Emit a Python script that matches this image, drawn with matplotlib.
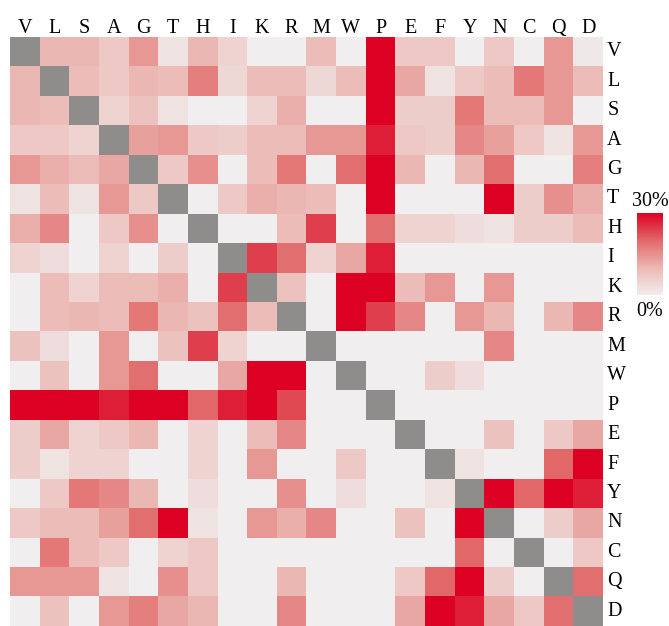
import matplotlib

matplotlib.use("Agg")

import matplotlib.pyplot as plt
import numpy as np
from matplotlib.colors import LinearSegmentedColormap


# residue order, shared by columns (top) and rows (right)
residues = [
    "V", "L", "S", "A", "G", "T", "H", "I", "K", "R",
    "M", "W", "P", "E", "F", "Y", "N", "C", "Q", "D",
]

# percent values, one list per row, diagonal = None
row_V = [None, 10, 10, 7, 14, 2, 10, 5, 0, 0, 9, 0, 30, 7, 7, 0, 7, 0, 14, 1]
row_L = [10, None, 9, 7, 10, 9, 17, 4, 9, 9, 4, 9, 30, 12, 2, 7, 9, 18, 14, 9]
row_S = [10, 9, None, 5, 8, 2, 0, 0, 5, 11, 0, 0, 30, 6, 6, 18, 9, 9, 14, 0]
row_A = [7, 7, 5, None, 13, 14, 7, 6, 9, 9, 14, 14, 27, 7, 6, 16, 13, 7, 2, 14]
row_G = [14, 11, 9, 12, None, 7, 15, 0, 9, 18, 0, 19, 30, 10, 0, 10, 19, 0, 0, 17]
row_T = [2, 9, 2, 14, 7, None, 0, 7, 11, 10, 9, 0, 30, 0, 0, 0, 30, 6, 15, 11]
row_H = [11, 16, 0, 7, 15, 0, None, 0, 0, 9, 24, 0, 19, 5, 5, 3, 2, 6, 6, 9]
row_I = [5, 3, 0, 5, 0, 6, 0, None, 24, 19, 5, 12, 27, 0, 0, 0, 0, 0, 0, 0]
row_K = [0, 9, 5, 9, 9, 11, 0, 24, None, 8, 0, 30, 30, 9, 14, 0, 14, 0, 0, 0]
row_R = [0, 9, 10, 9, 18, 10, 8, 19, 9, None, 0, 30, 24, 16, 0, 14, 10, 0, 10, 16]
row_M = [8, 3, 0, 14, 0, 8, 24, 5, 0, 0, None, 0, 0, 0, 0, 0, 16, 0, 0, 0]
row_W = [0, 8, 0, 14, 19, 0, 0, 12, 30, 30, 0, None, 0, 0, 6, 3, 0, 0, 0, 0]
row_P = [30, 30, 30, 27, 30, 30, 20, 27, 30, 23, 0, 0, None, 0, 0, 0, 0, 0, 0, 0]
row_E = [6, 12, 5, 7, 10, 0, 5, 0, 9, 16, 0, 0, 0, None, 0, 0, 8, 0, 7, 12]
row_F = [6, 2, 5, 5, 0, 0, 5, 0, 14, 0, 0, 7, 0, 0, None, 2, 0, 0, 20, 30]
row_Y = [0, 7, 18, 16, 10, 0, 3, 0, 0, 15, 0, 3, 0, 0, 2, None, 30, 20, 30, 27]
row_N = [7, 9, 9, 13, 19, 30, 2, 0, 14, 11, 16, 0, 0, 8, 0, 30, None, 0, 6, 12]
row_C = [0, 18, 9, 7, 0, 5, 7, 0, 0, 0, 0, 0, 0, 0, 0, 20, 0, None, 0, 7]
row_Q = [14, 14, 14, 2, 0, 15, 7, 0, 0, 10, 0, 0, 0, 7, 20, 30, 6, 0, None, 19]
row_D = [0, 8, 0, 14, 17, 12, 10, 0, 0, 16, 0, 0, 0, 12, 30, 27, 12, 7, 19, None]

rows = [
    row_V, row_L, row_S, row_A, row_G, row_T, row_H, row_I, row_K, row_R,
    row_M, row_W, row_P, row_E, row_F, row_Y, row_N, row_C, row_Q, row_D,
]

matrix = np.array(
    [[np.nan if v is None else v for v in row] for row in rows],
    dtype=float,
)

cmap = LinearSegmentedColormap.from_list(
    "pale_red",
    [
        (0.0, "#f0eeee"),
        (0.33, "#ecb8b3"),
        (0.66, "#e26a6a"),
        (1.0, "#dc0022"),
    ],
)
cmap.set_bad("#8f8d8c")

plt.rcParams["font.family"] = ["Liberation Serif", "DejaVu Serif"]

figure = plt.figure(figsize=(6.69, 6.26), dpi=100, facecolor="white")

axis = figure.add_axes([10 / 669, 0.0, 593 / 669, 589 / 626])
image = axis.imshow(
    np.ma.masked_invalid(matrix),
    cmap=cmap,
    vmin=0,
    vmax=30,
    aspect="auto",
    interpolation="nearest",
)

axis.set_xticks(np.arange(len(residues)))
axis.set_xticklabels(residues, fontsize=14.5)
axis.set_yticks(np.arange(len(residues)))
axis.set_yticklabels(residues, fontsize=14.5, va="center")
axis.xaxis.tick_top()
axis.yaxis.tick_right()
axis.tick_params(length=0)
axis.tick_params(axis="x", pad=-1)
axis.tick_params(axis="y", pad=3)
for spine in axis.spines.values():
    spine.set_visible(False)

# small colour bar on the right
bar_axis = figure.add_axes([637 / 669, (626 - 295) / 626, 26 / 669, 82 / 626])
colorbar = figure.colorbar(image, cax=bar_axis)
colorbar.outline.set_visible(False)
colorbar.set_ticks([])
bar_axis.text(0.5, 1.03, "30%", transform=bar_axis.transAxes,
              ha="center", va="bottom", fontsize=14.5)
bar_axis.text(0.5, -0.08, "0%", transform=bar_axis.transAxes,
              ha="center", va="top", fontsize=14.5)

figure.savefig("out.png", dpi=100, facecolor=figure.get_facecolor())
plt.close(figure)
